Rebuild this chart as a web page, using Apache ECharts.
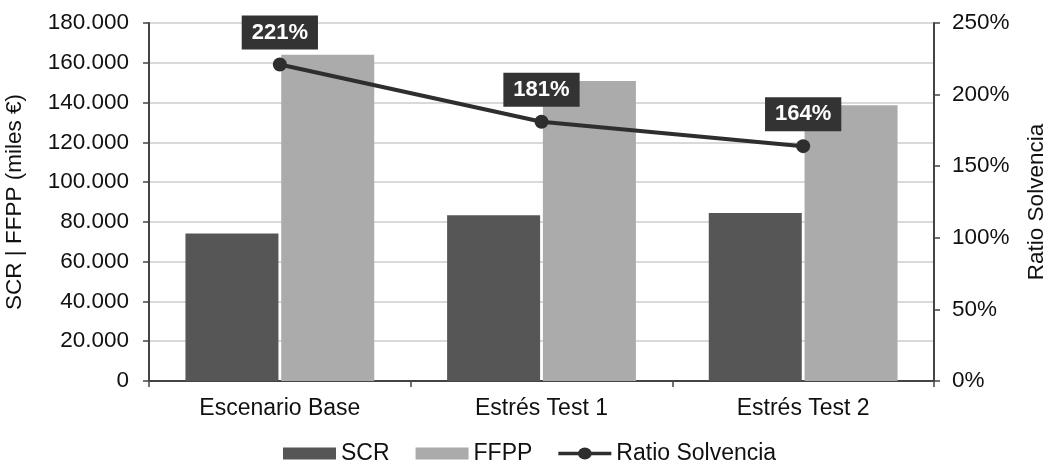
<!DOCTYPE html>
<html>
<head>
<meta charset="utf-8">
<script src="https://cdn.jsdelivr.net/npm/echarts@6/dist/echarts.min.js"></script>
<style>html,body{margin:0;padding:0;background:#fff}#c{width:1049px;height:472px}</style>
</head>
<body>
<div id="c"></div>
<script>
const categories = ['Escenario Base', 'Estrés Test 1', 'Estrés Test 2'];
const scrValues = [74200, 83300, 84500];
const ffppValues = [164000, 150800, 138700];
const ratioValues = [221, 181, 164];

const chart = echarts.init(document.getElementById('c'));
const font = 'Liberation Sans, Arial, sans-serif';
chart.setOption({
  animation: false,
  textStyle: { fontFamily: font },
  grid: { left: 149, right: 115, top: 23, bottom: 91, outerBoundsMode: 'none', containLabel: false },
  legend: {
    bottom: 2,
    left: 278,
    itemWidth: 53,
    itemHeight: 12,
    itemGap: 26,
    symbolKeepAspect: false,
    textStyle: { fontSize: 23, color: '#111', fontFamily: font },
    data: [
      { name: 'SCR', icon: 'rect' },
      { name: 'FFPP', icon: 'rect' },
      { name: 'Ratio Solvencia',
        icon: 'path://M0,5h54v4h-54z M20,7a7,7 0 1 1 14,0a7,7 0 1 1 -14,0z',
        itemStyle: { color: '#2e2e2e', borderWidth: 0 } }
    ]
  },
  xAxis: {
    type: 'category',
    data: categories,
    axisLine: { lineStyle: { color: '#444', width: 2 } },
    axisTick: { show: true, length: 6, lineStyle: { color: '#444', width: 1.5 } },
    axisLabel: { fontSize: 23, color: '#111', margin: 16 }
  },
  yAxis: [
    {
      type: 'value', min: 0, max: 180000, interval: 20000,
      name: 'SCR | FFPP (miles €)', nameLocation: 'middle', nameGap: 123,
      nameTextStyle: { fontSize: 22.5, color: '#111' },
      axisLine: { show: true, lineStyle: { color: '#444', width: 2 } },
      axisTick: { show: true, length: 6, lineStyle: { color: '#444', width: 1.5 } },
      axisLabel: { fontSize: 22.5, color: '#111', margin: 20,
        formatter: v => String(v).replace(/\B(?=(\d{3})+(?!\d))/g, '.') },
      splitLine: { lineStyle: { color: '#cccccc', width: 1.5 } }
    },
    {
      type: 'value', min: 0, max: 250, interval: 50,
      name: 'Ratio Solvencia', nameLocation: 'middle', nameGap: 91,
      nameTextStyle: { fontSize: 22.5, color: '#111' },
      axisLine: { show: true, lineStyle: { color: '#444', width: 2 } },
      axisTick: { show: true, length: 6, lineStyle: { color: '#444', width: 1.5 } },
      axisLabel: { fontSize: 22.5, color: '#111', margin: 18, formatter: '{value}%' },
      splitLine: { show: false }
    }
  ],
  series: [
    {
      name: 'SCR', type: 'bar', data: scrValues,
      barWidth: 93, barGap: '3%',
      itemStyle: { color: '#565656' }
    },
    {
      name: 'FFPP', type: 'bar', data: ffppValues,
      barWidth: 93,
      itemStyle: { color: '#ababab' }
    },
    {
      name: 'Ratio Solvencia', type: 'line', yAxisIndex: 1, data: ratioValues,
      symbol: 'circle', symbolSize: 14,
      lineStyle: { color: '#2e2e2e', width: 4 },
      itemStyle: { color: '#2e2e2e' },
      label: {
        show: true, position: 'top', distance: 8,
        formatter: '{c}%',
        color: '#fff', fontWeight: 'bold', fontSize: 22,
        backgroundColor: '#333', padding: [6, 10, 6, 10]
      },
      z: 5
    }
  ]
});
</script>
</body>
</html>
